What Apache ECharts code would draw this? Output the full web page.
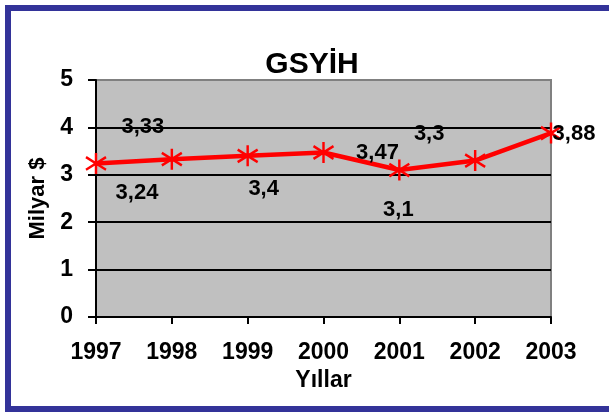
<!DOCTYPE html>
<html>
<head>
<meta charset="utf-8">
<script src="https://cdn.jsdelivr.net/npm/echarts@6/dist/echarts.min.js"></script>
<style>
html,body{margin:0;padding:0;background:#fff;overflow:hidden;}
#c{width:609px;height:414px;}
</style>
</head>
<body>
<div id="c"></div>
<script>
const years = ['1997','1998','1999','2000','2001','2002','2003'];
const gsyih = [3.24, 3.33, 3.4, 3.47, 3.1, 3.3, 3.88];
const yTicks = [0, 1, 2, 3, 4, 5];
const titleText = 'GSYİH';
const xName = 'Yıllar';
const yName = 'Milyar $';

// label placement (layout only, offsets from each point in px)
const labelOffsets = [[41,30],[-29,-32],[16,33],[54,0],[-1,40],[-46,-27],[23,1]];

const FONT = 'Liberation Sans';
const chart = echarts.init(document.getElementById('c'), null, {renderer:'canvas'});

const seriesData = gsyih.map((v, i) => ({
  value: v,
  label: { offset: labelOffsets[i] }
}));

const frameStyle = { stroke: '#333399', lineWidth: 6 };

chart.setOption({
  animation: false,
  backgroundColor: '#ffffff',
  graphic: [
    { type: 'line', z: 0, shape: { x1: 5, y1: 8, x2: 640, y2: 8 }, style: frameStyle },
    { type: 'line', z: 0, shape: { x1: 8, y1: 5, x2: 8, y2: 412 }, style: frameStyle },
    { type: 'line', z: 0, shape: { x1: 5, y1: 409, x2: 640, y2: 409 }, style: frameStyle },
    { type: 'text', z: 10, x: 312, y: 50,
      style: { text: titleText, fontSize: 30, fontWeight: 'bold', fontFamily: FONT,
               fill: '#000', textAlign: 'center', textVerticalAlign: 'top' } }
  ],
  grid: { left: 96, right: 58, top: 80, bottom: 97, show: true,
          backgroundColor: '#C0C0C0', borderColor: '#808080', borderWidth: 2 },
  xAxis: {
    type: 'category', data: years, boundaryGap: false,
    name: xName, nameLocation: 'middle', nameGap: 52,
    nameTextStyle: { fontSize: 23, fontWeight: 'bold', fontFamily: FONT, color: '#000' },
    axisLine: { lineStyle: { color: '#000', width: 2 } },
    axisTick: { show: true, length: 7, lineStyle: { color: '#000', width: 2 } },
    axisLabel: { margin: 24, fontSize: 23, fontWeight: 'bold', fontFamily: FONT, color: '#000' },
    splitLine: { show: false }
  },
  yAxis: {
    type: 'value', min: yTicks[0], max: yTicks[yTicks.length-1], interval: 1,
    name: yName, nameLocation: 'middle', nameGap: 43, nameRotate: 90,
    nameTextStyle: { fontSize: 22, fontWeight: 'bold', fontFamily: FONT, color: '#000' },
    axisLine: { show: true, lineStyle: { color: '#000', width: 2 } },
    axisTick: { show: true, length: 8, lineStyle: { color: '#000', width: 2 } },
    axisLabel: { margin: 23, fontSize: 23, fontWeight: 'bold', fontFamily: FONT, color: '#000' },
    splitLine: { show: true, lineStyle: { color: ['#000','#000','#000','#000','#000','#808080'], width: 2 } }
  },
  series: [{
    type: 'line',
    data: seriesData,
    symbol: 'path://M10,0 L10,20 M1,4 L19,16 M1,16 L19,4',
    symbolSize: [20, 21],
    showAllSymbol: true,
    clip: false,
    lineStyle: { color: '#FF0000', width: 4.5 },
    itemStyle: { color: '#FF0000', borderColor: '#FF0000', borderWidth: 2.5 },
    label: {
      show: true, position: 'inside', align: 'center', verticalAlign: 'middle',
      fontSize: 22, fontWeight: 'bold', fontFamily: FONT, color: '#000',
      formatter: p => String(p.value).replace('.', ',')
    },
    emphasis: { disabled: true },
    z: 5
  }]
});
</script>
</body>
</html>
